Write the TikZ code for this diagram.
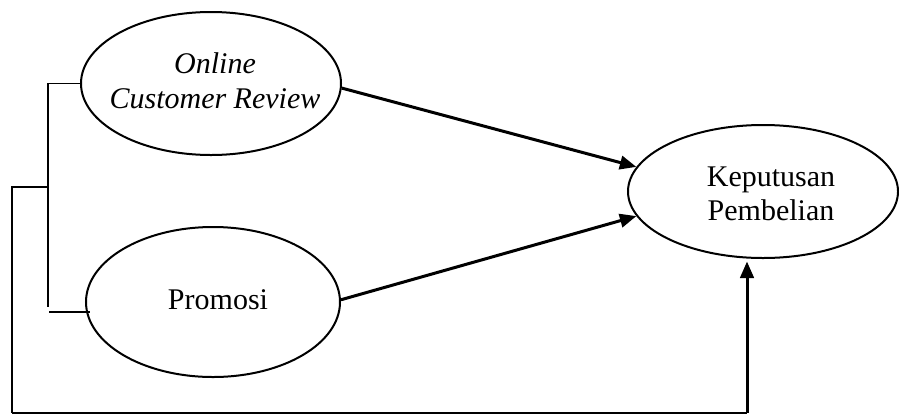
\documentclass[tikz,border=0pt]{standalone}
\usepackage{fontspec}
\setmainfont{Liberation Serif}
\usetikzlibrary{arrows.meta,shapes,positioning}

\begin{document}
\begin{tikzpicture}[x=0.4pt,y=-0.4pt,
  var/.style={draw,ellipse,line width=0.8pt,inner sep=0pt},
  varlabel/.style={align=center,inner sep=0pt,font=\fontsize{12}{13.8}\selectfont},
  link/.style={-{Triangle[length=6.6pt,width=5.4pt]},line width=1.2pt},
  bracket/.style={line width=0.45pt},
  stub/.style={line width=0.9pt}]
  \useasboundingbox (0,0) rectangle (899,414);

  % variables
  \node[var,minimum width=104pt,minimum height=57.2pt] (ocr) at (211,83.5) {};
  \node[varlabel,font=\fontsize{12}{13.8}\selectfont\itshape] (ocrtxt) at (215,81) {Online\\Customer Review};
  \node[var,minimum width=101.6pt,minimum height=60pt] (pr) at (213,302) {};
  \node[varlabel] (prtxt) at (218,300) {Promosi};
  \node[var,minimum width=108pt,minimum height=53.2pt] (kp) at (763,191.5) {};
  \node[varlabel] (kptxt) at (771,194) {Keputusan\\Pembelian};

  \draw[link] (ocr.-2) -- (kp.169);
  \draw[link] (pr.1) -- (kp.-169);

  % simultaneous
  \coordinate (b1) at (48,307);
  \coordinate (b2) at (49,312);
  \coordinate (b3) at (48,187);
  \coordinate (b4) at (12,413);
  \coordinate (b5) at (747,413);
  \draw[bracket] (ocr.west) -| (b1);
  \draw[stub] (b2) -- ([xshift=2pt]b2 -| pr.west);
  \draw[bracket] (b3) -| (b4);
  \draw[stub] (b4) -- (b5);
  \draw[link] (b5) -- ([yshift=-1pt]b5 |- kp.south);
\end{tikzpicture}
\end{document}
